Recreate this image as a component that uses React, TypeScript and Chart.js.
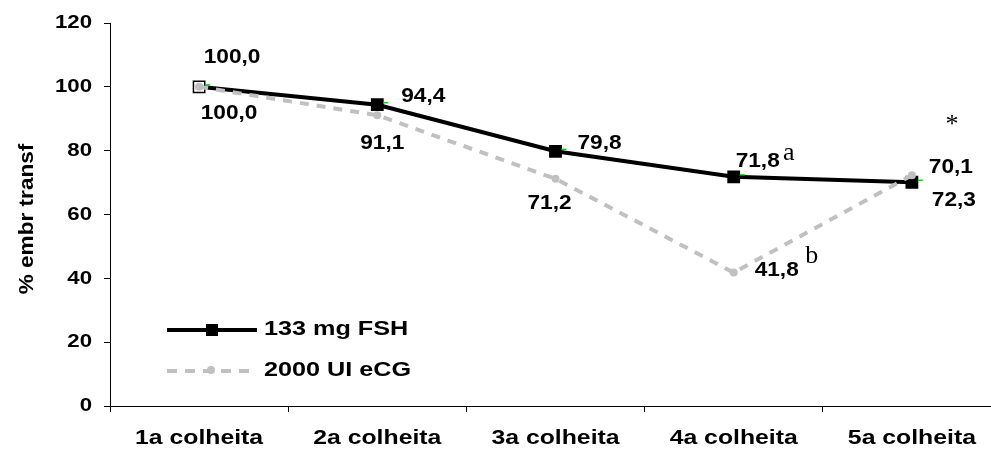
import React, { useEffect, useRef } from 'react';
import { Chart, registerables } from 'chart.js';

Chart.register(...registerables);

// ---- data ----
const categories = ['1a colheita', '2a colheita', '3a colheita', '4a colheita', '5a colheita'];
const fshValues = [100.0, 94.4, 79.8, 71.8, 70.1];
const ecgValues = [100.0, 91.1, 71.2, 41.8, 72.3];
const yTicks = [0, 20, 40, 60, 80, 100, 120];
const fshMarks = ['', '', '', 'a', ''];
const ecgMarks = ['', '', '', 'b', ''];
const columnMarks = ['', '', '', '', '*'];
const fshName = '133 mg FSH';
const ecgName = '2000 UI eCG';
const yTitle = '% embr transf';

// ---- style / placement (not data) ----
const SANS = '"Liberation Sans", Arial, sans-serif';
const SERIF = '"Liberation Serif", "Times New Roman", serif';
const FSH_LABEL_OFF = [[33, -30], [46, -9], [44, -8], [24, -16], [39, -15]];
const ECG_LABEL_OFF = [[30, 26], [5, 28], [-6, 24], [43, -2], [42, 25]];
const FSH_MARK_OFF = [[0, 0], [0, 0], [0, 0], [55, -17], [0, 0]];
const ECG_MARK_OFF = [[0, 0], [0, 0], [0, 0], [78, -10], [0, 0]];
const COL_MARK_OFF = [0, 0, 0, 0, 0].map(() => [40, -50]);
const CANVAS_W = 1001;
const CANVAS_H = 449;

const fmt = (v: number) => v.toFixed(1).replace('.', ',');

function drawText(
  ctx: CanvasRenderingContext2D,
  str: string,
  x: number,
  y: number,
  font: string,
  align: CanvasTextAlign,
  baseline: CanvasTextBaseline,
  sx: number,
  color = '#000'
) {
  ctx.save();
  ctx.translate(x, y);
  ctx.scale(sx, 1);
  ctx.font = font;
  ctx.textAlign = align;
  ctx.textBaseline = baseline;
  ctx.fillStyle = color;
  ctx.fillText(str, 0, 0);
  ctx.restore();
}

const overlayPlugin = {
  id: 'overlay',
  afterDraw(chart: any) {
    const ctx: CanvasRenderingContext2D = chart.ctx;
    const xs = chart.scales.x;
    const ys = chart.scales.y;

    // y tick labels
    yTicks.forEach((v) => {
      drawText(ctx, String(v), 92, ys.getPixelForValue(v), `bold 19px ${SANS}`, 'right', 'middle', 1.17);
    });
    // x tick labels
    categories.forEach((c, i) => {
      drawText(ctx, c, xs.getPixelForValue(i), 438, `bold 21px ${SANS}`, 'center', 'middle', 1.18);
    });
    // y title
    ctx.save();
    ctx.translate(33, 219);
    ctx.rotate(-Math.PI / 2);
    drawText(ctx, yTitle, 0, 0, `bold 20px ${SANS}`, 'center', 'alphabetic', 1.13);
    ctx.restore();

    const fshPts = chart.getDatasetMeta(0).data;
    const ecgPts = chart.getDatasetMeta(1).data;

    // small green ticks next to FSH markers
    ctx.save();
    ctx.strokeStyle = '#00e000';
    ctx.lineWidth = 1.5;
    fshPts.forEach((p: any) => {
      ctx.beginPath();
      ctx.moveTo(p.x + 6, p.y - 2);
      ctx.lineTo(p.x + 11, p.y - 2);
      ctx.stroke();
    });
    ctx.restore();

    // data labels
    fshValues.forEach((v, i) => {
      const p = fshPts[i];
      drawText(ctx, fmt(v), p.x + FSH_LABEL_OFF[i][0], p.y + FSH_LABEL_OFF[i][1], `bold 21px ${SANS}`, 'center', 'middle', 1.08);
      if (fshMarks[i]) {
        drawText(ctx, fshMarks[i], p.x + FSH_MARK_OFF[i][0], p.y + FSH_MARK_OFF[i][1], `26px ${SERIF}`, 'center', 'alphabetic', 1);
      }
      if (columnMarks[i]) {
        drawText(ctx, columnMarks[i], p.x + COL_MARK_OFF[i][0], p.y + COL_MARK_OFF[i][1], `26px ${SERIF}`, 'center', 'alphabetic', 1);
      }
    });
    ecgValues.forEach((v, i) => {
      const p = ecgPts[i];
      drawText(ctx, fmt(v), p.x + ECG_LABEL_OFF[i][0], p.y + ECG_LABEL_OFF[i][1], `bold 21px ${SANS}`, 'center', 'middle', 1.08);
      if (ecgMarks[i]) {
        drawText(ctx, ecgMarks[i], p.x + ECG_MARK_OFF[i][0], p.y + ECG_MARK_OFF[i][1], `26px ${SERIF}`, 'center', 'alphabetic', 1);
      }
    });

    // legend
    ctx.save();
    ctx.strokeStyle = '#000';
    ctx.lineWidth = 4;
    ctx.beginPath();
    ctx.moveTo(167, 330);
    ctx.lineTo(257, 330);
    ctx.stroke();
    ctx.fillStyle = '#000';
    ctx.fillRect(206, 324, 12, 12);
    ctx.strokeStyle = '#c0c0c0';
    ctx.lineWidth = 4;
    ctx.setLineDash([10, 8]);
    ctx.beginPath();
    ctx.moveTo(167, 371);
    ctx.lineTo(257, 371);
    ctx.stroke();
    ctx.setLineDash([]);
    ctx.fillStyle = '#c0c0c0';
    ctx.beginPath();
    ctx.arc(211, 370, 4, 0, Math.PI * 2);
    ctx.fill();
    ctx.restore();
    drawText(ctx, fshName, 264, 329, `bold 21px ${SANS}`, 'left', 'middle', 1.2);
    drawText(ctx, ecgName, 264, 370, `bold 21px ${SANS}`, 'left', 'middle', 1.2);
  },
};

export default function App() {
  const ref = useRef<HTMLCanvasElement | null>(null);
  useEffect(() => {
    if (!ref.current) return;
    const chart = new Chart(ref.current, {
      type: 'line',
      data: {
        labels: categories,
        datasets: [
          {
            label: fshName,
            data: fshValues,
            borderColor: '#000',
            borderWidth: 4,
            pointStyle: 'rect',
            pointRadius: 8,
            pointBackgroundColor: (c: any) => (c.dataIndex === 0 ? '#fff' : '#000'),
            pointBorderColor: '#000',
            pointBorderWidth: 1.5,
            tension: 0,
            order: 2,
          },
          {
            label: ecgName,
            data: ecgValues,
            borderColor: '#c0c0c0',
            borderWidth: 4,
            borderDash: [9, 8],
            pointStyle: 'circle',
            pointRadius: 4,
            pointBackgroundColor: '#c0c0c0',
            pointBorderWidth: 0,
            tension: 0,
            order: 1,
          },
        ],
      },
      options: {
        animation: false,
        responsive: false,
        maintainAspectRatio: false,
        devicePixelRatio: 1,
        events: [],
        layout: { autoPadding: false, padding: { top: 23, left: 0, right: 0, bottom: 0 } },
        plugins: { legend: { display: false }, tooltip: { enabled: false } },
        scales: {
          x: {
            type: 'category',
            offset: true,
            grid: { offset: true, drawOnChartArea: false, drawTicks: true, tickLength: 6, color: '#000', lineWidth: 1 },
            border: { display: true, color: '#000', width: 1 },
            ticks: { display: false },
            afterFit: (s: any) => {
              s.height = 43;
            },
          },
          y: {
            min: 0,
            max: 120,
            ticks: { display: false, stepSize: 20 },
            grid: { drawOnChartArea: false, drawTicks: true, tickLength: 6, color: '#000', lineWidth: 1 },
            border: { display: true, color: '#000', width: 1 },
            afterFit: (s: any) => {
              s.width = 110;
            },
          },
        },
      } as any,
      plugins: [overlayPlugin],
    });
    return () => chart.destroy();
  }, []);

  return (
    <div style={{ position: 'fixed', left: 0, top: 0, width: 991, height: 449, overflow: 'hidden', background: '#fff' }}>
      <canvas ref={ref} width={CANVAS_W} height={CANVAS_H} style={{ display: 'block', width: CANVAS_W, height: CANVAS_H }} />
    </div>
  );
}
